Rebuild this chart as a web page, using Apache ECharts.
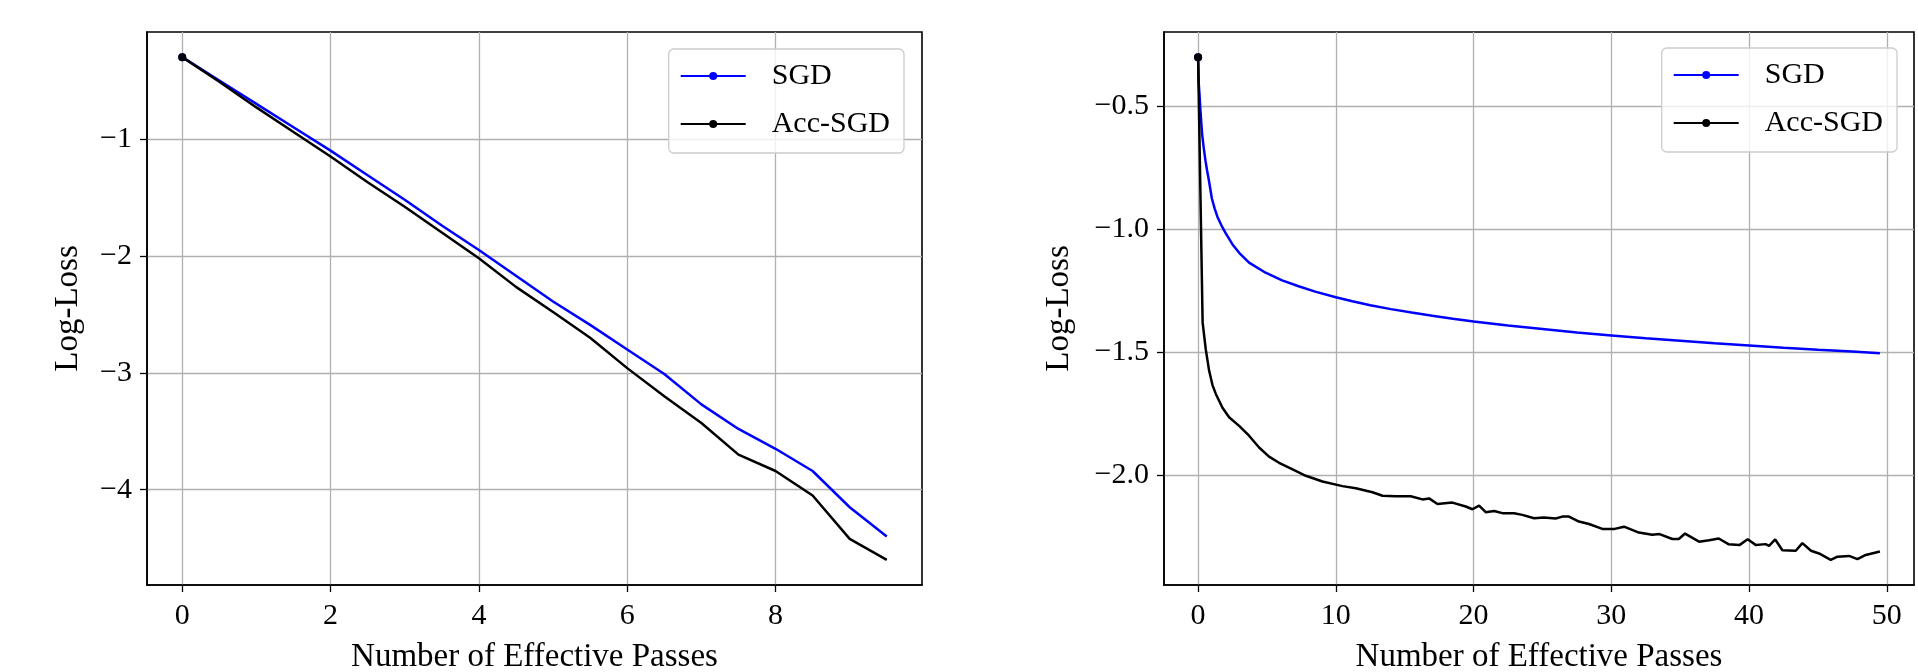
<!DOCTYPE html>
<html><head><meta charset="utf-8">
<script src="https://cdn.jsdelivr.net/npm/echarts@6/dist/echarts.min.js"></script>
<style>html,body{margin:0;padding:0;background:#fff}#c{width:1918px;height:672px}</style>
</head><body><div id="c"></div>
<script>
// ---------- data ----------
const seriesNames = ['SGD', 'Acc-SGD'];
const xAxisName = 'Number of Effective Passes';
const yAxisName = 'Log-Loss';

// left panel
const leftX   = [0,0.5,1,1.5,2,2.5,3,3.5,4,4.5,5,5.5,6,6.5,7,7.5,8,8.5,9,9.5];
const leftSGD = [-0.30,-0.50,-0.70,-0.90,-1.10,-1.31,-1.52,-1.74,-1.95,-2.17,-2.39,-2.59,-2.80,-3.01,-3.27,-3.48,-3.65,-3.84,-4.15,-4.40];
const leftAcc = [-0.30,-0.51,-0.73,-0.94,-1.15,-1.37,-1.58,-1.80,-2.02,-2.265,-2.48,-2.70,-2.96,-3.20,-3.43,-3.70,-3.84,-4.05,-4.42,-4.60];
const leftXTicks = [0,2,4,6,8];
const leftYTicks = [-4,-3,-2,-1];

// right panel
const rightSGDx = [0,0.05,0.1,0.17,0.23,0.29,0.4,0.53,0.65,0.78,1.0,1.2,1.4,1.7,2.0,2.5,3.0,3.7,4.9,6.1,7.3,8.5,10,11.2,12.5,14,15.5,17,18.5,20,22.5,25,27.5,30,32.5,35,37.5,40,42.5,45,47.5,49.5];
const rightSGDy = [-0.30,-0.41,-0.45,-0.516,-0.565,-0.611,-0.665,-0.719,-0.76,-0.80,-0.875,-0.915,-0.949,-0.985,-1.016,-1.062,-1.097,-1.136,-1.177,-1.208,-1.232,-1.254,-1.277,-1.293,-1.309,-1.325,-1.339,-1.352,-1.364,-1.375,-1.392,-1.406,-1.420,-1.432,-1.444,-1.454,-1.464,-1.473,-1.482,-1.490,-1.497,-1.505];
const rightAccX = [0,0.33,0.56,0.8,1.04,1.28,1.77,2.25,2.98,3.7,4.43,5.15,5.88,6.6,7.82,9.03,10.48,11.45,12.66,13.39,14.35,15.44,16.29,16.77,17.38,18.46,19.43,19.92,20.4,20.88,21.49,22.09,22.94,23.54,24.39,25.11,25.96,26.44,26.93,27.65,28.38,29.35,30.25,30.92,32.0,32.97,33.5,34.43,34.9,35.35,36.37,37.1,37.8,38.5,39.3,39.9,40.5,41.2,41.45,41.9,42.42,43.39,43.87,44.5,45.08,45.93,46.42,47.26,47.87,48.47,49.5];
const rightAccY = [-0.30,-1.38,-1.49,-1.575,-1.633,-1.669,-1.726,-1.765,-1.800,-1.840,-1.888,-1.925,-1.950,-1.970,-2.003,-2.026,-2.045,-2.054,-2.070,-2.084,-2.086,-2.086,-2.099,-2.095,-2.118,-2.112,-2.128,-2.139,-2.124,-2.151,-2.146,-2.155,-2.155,-2.162,-2.176,-2.173,-2.177,-2.169,-2.169,-2.189,-2.199,-2.219,-2.219,-2.210,-2.234,-2.243,-2.240,-2.260,-2.260,-2.238,-2.271,-2.265,-2.258,-2.281,-2.285,-2.261,-2.285,-2.281,-2.288,-2.262,-2.306,-2.308,-2.277,-2.308,-2.319,-2.345,-2.332,-2.329,-2.342,-2.325,-2.311];
const rightXTicks = [0,10,20,30,40,50];
const rightYTicks = [-2.0,-1.5,-1.0,-0.5];

// ---------- helpers ----------
const FONT = '"Liberation Serif", "Times New Roman", serif';
const FS = 30;
function fmt(v, d) { return (v < 0 ? '\u2212' : '') + Math.abs(v).toFixed(d); }
function zip(xs, ys) { return xs.map((x, i) => [x, ys[i]]); }
function margin(lo, hi) { const p = (hi - lo) * 0.05; return [lo - p, hi + p]; }

const lxR = margin(Math.min(...leftX), Math.max(...leftX));
const lyR = margin(Math.min(...leftSGD, ...leftAcc), Math.max(...leftSGD, ...leftAcc));
const rxR = margin(Math.min(...rightSGDx, ...rightAccX), Math.max(...rightSGDx, ...rightAccX));
const ryR = margin(Math.min(...rightSGDy, ...rightAccY), Math.max(...rightSGDy, ...rightAccY));

const textBase = { fontFamily: FONT, fontSize: FS, color: '#000' };
const nameText = { fontFamily: FONT, fontSize: 33, color: '#000' };

function xAx(gi, r, ticks, d) {
  return {
    type: 'value', gridIndex: gi, min: r[0], max: r[1],
    name: xAxisName, nameLocation: 'middle', nameGap: 56,
    nameTextStyle: Object.assign({}, nameText),
    axisLine: { show: true, onZero: false, lineStyle: { color: '#000', width: 1.6 } },
    axisTick: { show: true, inside: false, length: 7, customValues: ticks, lineStyle: { color: '#000', width: 1.3 } },
    axisLabel: Object.assign({ customValues: ticks, margin: 16, formatter: v => fmt(v, d) }, textBase),
    splitLine: { show: true, lineStyle: { color: '#b0b0b0', width: 1.3 } }
  };
}
function yAx(gi, r, ticks, d, gap) {
  return {
    type: 'value', gridIndex: gi, min: r[0], max: r[1],
    name: yAxisName, nameLocation: 'middle', nameGap: gap, nameRotate: 90,
    nameTextStyle: Object.assign({}, nameText),
    axisLine: { show: true, onZero: false, lineStyle: { color: '#000', width: 1.6 } },
    axisTick: { show: true, inside: false, length: 7, customValues: ticks, lineStyle: { color: '#000', width: 1.3 } },
    axisLabel: Object.assign({ customValues: ticks, margin: 15, formatter: v => fmt(v, d) }, textBase),
    splitLine: { show: true, lineStyle: { color: '#b0b0b0', width: 1.3 } }
  };
}
function ser(name, color, data, xi) {
  return {
    type: 'line', name: name, xAxisIndex: xi, yAxisIndex: xi, data: data,
    lineStyle: { color: color, width: 2.5 }, itemStyle: { color: color },
    symbol: 'circle', symbolSize: (v, p) => (p.dataIndex === 0 ? 8 : 0)
  };
}
function leg(pos) {
  return Object.assign({
    data: seriesNames, orient: 'vertical', selectedMode: false,
    itemWidth: 65, itemHeight: 10, itemGap: 18,
    padding: [12, 14, 14, 11],
    backgroundColor: 'rgba(255,255,255,0.8)', borderColor: '#cccccc', borderWidth: 1.3, borderRadius: 5,
    textStyle: Object.assign({ lineHeight: 30, padding: [0, 0, 0, 21] }, textBase)
  }, pos);
}
function grid(pos) {
  return Object.assign({
    top: 32, bottom: 87, show: true, borderColor: '#000', borderWidth: 1.6,
    backgroundColor: 'transparent', containLabel: false, outerBoundsMode: 'none'
  }, pos);
}

const chart = echarts.init(document.getElementById('c'));
chart.setOption({
  animation: false,
  backgroundColor: '#fff',
  grid: [grid({ left: 147, right: 996 }), grid({ left: 1164, right: 4 })],
  xAxis: [xAx(0, lxR, leftXTicks, 0), xAx(1, rxR, rightXTicks, 0)],
  yAxis: [yAx(0, lyR, leftYTicks, 0, 62), yAx(1, ryR, rightYTicks, 1, 88)],
  legend: [leg({ right: 1014, top: 49 }), leg({ right: 21, top: 48 })],
  series: [
    ser('SGD', '#0000ff', zip(leftX, leftSGD), 0),
    ser('Acc-SGD', '#000000', zip(leftX, leftAcc), 0),
    ser('SGD', '#0000ff', zip(rightSGDx, rightSGDy), 1),
    ser('Acc-SGD', '#000000', zip(rightAccX, rightAccY), 1)
  ]
});
</script></body></html>
